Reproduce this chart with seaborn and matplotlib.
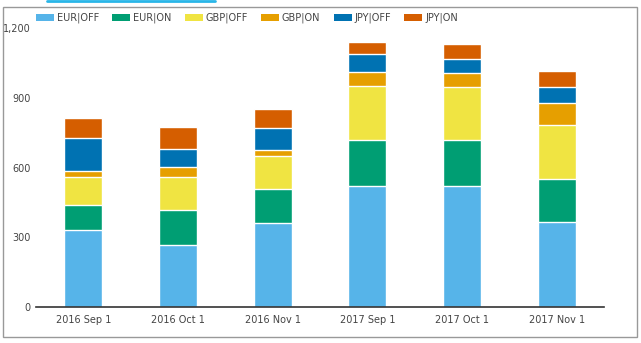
import numpy as np
import pandas as pd
import matplotlib
matplotlib.use("Agg")
import matplotlib.pyplot as plt
import seaborn as sns
from matplotlib.patches import Patch, Rectangle
from matplotlib.lines import Line2D

categories = ["2016 Sep 1", "2016 Oct 1", "2016 Nov 1", "2017 Sep 1", "2017 Oct 1", "2017 Nov 1"]
series_names = ["EUR|OFF", "EUR|ON", "GBP|OFF", "GBP|ON", "JPY|OFF", "JPY|ON"]
eur_off = [330, 267, 360, 519, 519, 364]
eur_on = [107, 149, 146, 198, 198, 188]
gbp_off = [121, 143, 142, 235, 231, 232]
gbp_on = [27, 42, 26, 60, 57, 92]
jpy_off = [143, 77, 94, 78, 60, 69]
jpy_on = [86, 98, 85, 51, 68, 71]
colors = ["#56B4E9", "#009E73", "#F0E442", "#E69F00", "#0072B2", "#D55E00"]
yticks = [0, 300, 600, 900, 1200]
ytick_labels = ["0", "300", "600", "900", "1,200"]

sns.set_theme(style="white")
plt.rcParams["font.family"] = ["DejaVu Sans"]

series = [eur_off, eur_on, gbp_off, gbp_on, jpy_off, jpy_on]
cum = np.cumsum(np.array(series), axis=0)

fig = plt.figure(figsize=(6.41, 3.43), dpi=100)
ax = fig.add_axes([36 / 641, 1 - 307 / 343, (604 - 36) / 641, (307 - 28) / 343])

for i in reversed(range(len(series))):
    df = pd.DataFrame({"cat": categories, "val": cum[i]})
    sns.barplot(data=df, x="cat", y="val", color=colors[i], width=0.4,
                edgecolor="white", linewidth=1.0, saturation=1, ax=ax)

ax.set_ylim(0, 1200)
ax.set_xlim(-0.5, len(categories) - 0.5)
ax.set_yticks(yticks)
ax.set_yticklabels(ytick_labels)
ax.set_xlabel("")
ax.set_ylabel("")
ax.tick_params(axis="both", length=0, labelsize=7, colors="#444444", pad=6)
ax.tick_params(axis="y", pad=4)
for s in ["top", "right", "left"]:
    ax.spines[s].set_visible(False)
ax.spines["bottom"].set_color("#333333")
ax.spines["bottom"].set_linewidth(1.2)

handles = [Patch(facecolor=c, edgecolor="none", label=n) for c, n in zip(colors, series_names)]
fig.legend(handles=handles, loc="center left", bbox_to_anchor=(36 / 641, 1 - 18 / 343),
           ncol=6, frameon=False, fontsize=7, handlelength=1.85, handleheight=0.8,
           columnspacing=1.35, handletextpad=0.3, borderpad=0, borderaxespad=0,
           labelcolor="#444444")

fig.patches.append(Rectangle((3 / 641, 6 / 343), 634 / 641, 330 / 343, transform=fig.transFigure,
                             fill=False, edgecolor="#999999", linewidth=1.0))
fig.lines.append(Line2D([47 / 641, 215 / 641], [1 - 0.5 / 343, 1 - 0.5 / 343], transform=fig.transFigure,
                        color="#29B6E8", linewidth=2))

fig.savefig("out.png", dpi=100)
